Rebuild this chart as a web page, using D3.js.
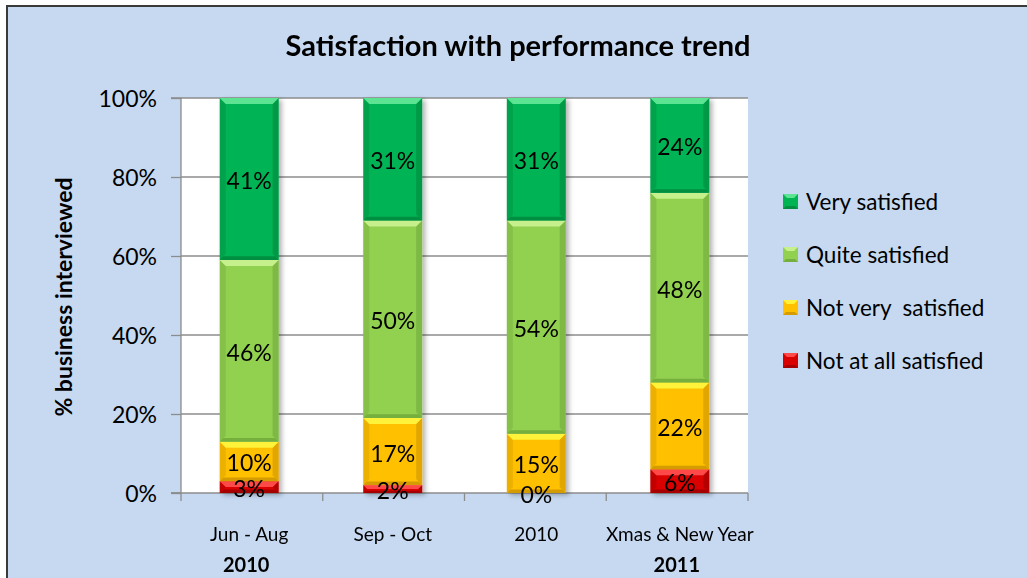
<!DOCTYPE html>
<html>
<head>
<meta charset="utf-8">
<script src="https://cdn.jsdelivr.net/npm/d3@7"></script>
<style>
  body { margin: 0; background: #fff; }
  text { font-family: Lato, "Open Sans", sans-serif; fill: #000; white-space: pre; }
</style>
</head>
<body>
<svg id="chart" width="1027" height="578"></svg>
<script>
// data
const categories = ["Jun - Aug", "Sep - Oct", "2010", "Xmas & New Year"];
const yearLabels = ["2010", "", "", "2011"];
const seriesNames = ["Not at all satisfied", "Not very  satisfied", "Quite satisfied", "Very satisfied"];
const notAtAll = [3, 2, 0, 6];
const notVery = [10, 17, 15, 22];
const quite = [46, 50, 54, 48];
const very = [41, 31, 31, 24];
const yTicks = [0, 20, 40, 60, 80, 100];

// colours: base / top highlight / bottom shade
const palette = [
  { base: "#D90000", light: "#FF4A4A", dark: "#980000" },
  { base: "#FFC000", light: "#FFF23A", dark: "#C99200" },
  { base: "#92D050", light: "#C6F08C", dark: "#6EA63A" },
  { base: "#00B454", light: "#5CE492", dark: "#00853C" }
];

const values = [notAtAll, notVery, quite, very];
const rows = categories.map((c, i) => {
  const r = { cat: c };
  seriesNames.forEach((s, j) => r[s] = values[j][i]);
  return r;
});
const stacked = d3.stack().keys(seriesNames)(rows);

const svg = d3.select("#chart");
const plot = { left: 181, right: 748, top: 98, bottom: 493 };

// outer frame
svg.append("rect")
  .attr("x", 7).attr("y", 6)
  .attr("width", 1040).attr("height", 600)
  .attr("fill", "#C6D9F1")
  .attr("stroke", "#3A3A3A")
  .attr("stroke-width", 2);

const defs = svg.append("defs");
const shadow = defs.append("filter").attr("id", "shadow")
  .attr("x", "-20%").attr("y", "-5%").attr("width", "150%").attr("height", "115%");
shadow.append("feDropShadow")
  .attr("dx", 3).attr("dy", 2).attr("stdDeviation", 2.5)
  .attr("flood-color", "#000").attr("flood-opacity", 0.3);

const x = d3.scaleBand()
  .domain(categories)
  .range([plot.left, plot.right])
  .paddingInner(0.59)
  .paddingOuter(0.27);

const y = d3.scaleLinear()
  .domain([0, 100])
  .range([plot.bottom, plot.top]);

// plot background
svg.append("rect")
  .attr("x", plot.left).attr("y", plot.top)
  .attr("width", plot.right - plot.left)
  .attr("height", plot.bottom - plot.top)
  .attr("fill", "#fff");

// gridlines
svg.append("g")
  .selectAll("line")
  .data(yTicks.filter(d => d > 0))
  .enter().append("line")
  .attr("x1", plot.left).attr("x2", plot.right)
  .attr("y1", d => y(d)).attr("y2", d => y(d))
  .attr("stroke", "#8C8C8C").attr("stroke-width", 1.3);

// y axis
const yAxis = svg.append("g")
  .attr("transform", `translate(${plot.left},0)`)
  .call(d3.axisLeft(y).tickValues(yTicks).tickSize(10).tickPadding(14).tickFormat(d => d + "%"));
yAxis.selectAll("line, path").attr("stroke", "#8C8C8C").attr("stroke-width", 1.3);
yAxis.select(".domain").attr("d", `M-10,${plot.top}H0V${plot.bottom}H-10`);
yAxis.selectAll("text").style("font-size", "23px").attr("fill", "#000").attr("dy", "0.36em");

// x axis line and ticks between categories
const boundaries = d3.range(categories.length + 1).map(i => plot.left + i * (plot.right - plot.left) / categories.length);
svg.append("line")
  .attr("x1", plot.left - 10).attr("x2", plot.right)
  .attr("y1", plot.bottom).attr("y2", plot.bottom)
  .attr("stroke", "#8C8C8C").attr("stroke-width", 1.3);
svg.append("g").selectAll("line")
  .data(boundaries)
  .enter().append("line")
  .attr("x1", d => d).attr("x2", d => d)
  .attr("y1", plot.bottom).attr("y2", plot.bottom + 8)
  .attr("stroke", "#8C8C8C").attr("stroke-width", 1.3);

// bars with a bevel look
const bw = x.bandwidth();
const layers = svg.append("g").attr("filter", "url(#shadow)");
stacked.forEach((layer, si) => {
  const col = palette[si];
  layer.forEach((d, i) => {
    const x0 = x(categories[i]);
    const y0 = y(d[1]);
    const h = y(d[0]) - y(d[1]);
    if (h <= 0) return;
    const g = layers.append("g");
    const b = Math.min(6, h / 2);
    g.append("rect").attr("x", x0).attr("y", y0).attr("width", bw).attr("height", h).attr("fill", col.base);
    // sides
    g.append("polygon")
      .attr("points", [[x0, y0], [x0 + b, y0 + b], [x0 + b, y0 + h - b], [x0, y0 + h]].join(" "))
      .attr("fill", col.dark).attr("opacity", 0.35);
    g.append("polygon")
      .attr("points", [[x0 + bw, y0], [x0 + bw - b, y0 + b], [x0 + bw - b, y0 + h - b], [x0 + bw, y0 + h]].join(" "))
      .attr("fill", col.dark).attr("opacity", 0.55);
    // top highlight
    g.append("polygon")
      .attr("points", [[x0, y0], [x0 + bw, y0], [x0 + bw - b, y0 + b], [x0 + b, y0 + b]].join(" "))
      .attr("fill", col.light);
    // bottom shade
    g.append("polygon")
      .attr("points", [[x0, y0 + h], [x0 + bw, y0 + h], [x0 + bw - b * 0.6, y0 + h - b * 0.6], [x0 + b * 0.6, y0 + h - b * 0.6]].join(" "))
      .attr("fill", col.dark).attr("opacity", 0.8);
  });
});

// data labels
const labels = svg.append("g");
stacked.forEach(layer => {
  layer.forEach((d, i) => {
    labels.append("text")
      .attr("x", x(categories[i]) + bw / 2)
      .attr("y", (y(d[0]) + y(d[1])) / 2 + 10)
      .attr("text-anchor", "middle")
      .style("font-size", "23px")
      .text((d[1] - d[0]) + "%");
  });
});

// category labels
svg.append("g").selectAll("text")
  .data(categories)
  .enter().append("text")
  .attr("x", d => x(d) + bw / 2)
  .attr("y", 541)
  .attr("text-anchor", "middle")
  .style("font-size", "19px")
  .text(d => d);
svg.append("g").selectAll("text")
  .data(yearLabels)
  .enter().append("text")
  .attr("x", (d, i) => x(categories[i]) + bw / 2 - 3)
  .attr("y", 572)
  .attr("text-anchor", "middle")
  .style("font-size", "20px")
  .style("font-weight", "bold")
  .text(d => d);

// title
svg.append("text")
  .attr("x", 518).attr("y", 56)
  .attr("text-anchor", "middle")
  .style("font-size", "29px")
  .style("font-weight", "bold")
  .text("Satisfaction with performance trend");

// y axis title
svg.append("text")
  .attr("transform", "translate(72,297) rotate(-90)")
  .attr("text-anchor", "middle")
  .style("font-size", "23px")
  .style("font-weight", "bold")
  .text("% business interviewed");

// legend (top to bottom: Very, Quite, Not very, Not at all)
const legendOrder = seriesNames.map((s, i) => ({ name: s, col: palette[i] })).reverse();
const legend = svg.append("g");
legendOrder.forEach((d, i) => {
  const ly = 202 + i * 53;
  const lx = 783;
  const s = 15;
  legend.append("rect").attr("x", lx).attr("y", ly - 8).attr("width", s).attr("height", s).attr("fill", d.col.base);
  legend.append("polygon")
    .attr("points", [[lx, ly - 8], [lx + s, ly - 8], [lx + s - 4, ly - 4], [lx + 4, ly - 4]].join(" "))
    .attr("fill", d.col.light);
  legend.append("polygon")
    .attr("points", [[lx, ly + 7], [lx + s, ly + 7], [lx + s - 3, ly + 4], [lx + 3, ly + 4]].join(" "))
    .attr("fill", d.col.dark).attr("opacity", 0.8);
  legend.append("text")
    .attr("x", 806).attr("y", ly + 8)
    .style("font-size", "22.5px")
    .text(d.name);
});
</script>
</body>
</html>
